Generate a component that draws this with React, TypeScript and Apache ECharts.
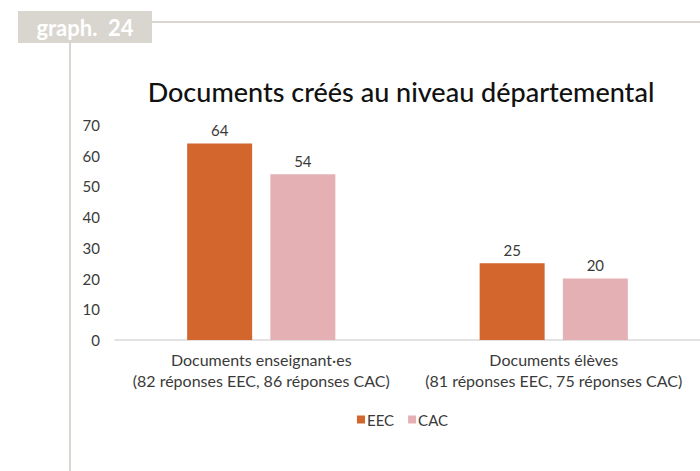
import React, { useEffect, useRef } from "react";
import * as echarts from "echarts";

const categories = [
  "Documents enseignant·es\n(82 réponses EEC, 86 réponses CAC)",
  "Documents élèves\n(81 réponses EEC, 75 réponses CAC)",
];
const seriesNames = ["EEC", "CAC"];
const eecValues = [64, 25];
const cacValues = [54, 20];
const yTicks = { min: 0, max: 70, interval: 10 };
const titleText = "Documents créés au niveau départemental";
const badgeText = "graph.  24";

const FONT = "Lato, 'Noto Sans', sans-serif";
const FRAME = "#d9d6d0";
const TXT = "#3a3a3a";

export default function App() {
  const ref = useRef<HTMLDivElement>(null);
  useEffect(() => {
    if (!ref.current) return;
    const chart = echarts.init(ref.current, undefined, { renderer: "svg" });
    chart.setOption({
      animation: false,
      backgroundColor: "#ffffff",
      textStyle: { fontFamily: FONT },
      title: {
        text: titleText,
        left: 396,
        top: 73,
        textAlign: "center",
        textStyle: { fontFamily: FONT, fontSize: 27, fontWeight: 500, color: "#111111" },
      },
      legend: {
        data: seriesNames,
        left: 352,
        top: 407,
        itemWidth: 8,
        itemHeight: 8,
        itemGap: 14,
        icon: "rect",
        textStyle: { fontFamily: FONT, fontSize: 15, color: TXT, padding: [0, 0, 0, -3] },
      },
      grid: { left: 115, right: -7, top: 125, bottom: 131, containLabel: false },
      xAxis: {
        type: "category",
        data: categories,
        axisLine: { show: true, lineStyle: { color: "#d9d9d9", width: 1.5 } },
        axisTick: { show: false },
        axisLabel: {
          interval: 0,
          margin: 9,
          fontFamily: FONT,
          fontSize: 16,
          lineHeight: 21,
          color: TXT,
        },
      },
      yAxis: {
        type: "value",
        min: yTicks.min,
        max: yTicks.max,
        interval: yTicks.interval,
        splitLine: { show: false },
        axisLine: { show: false },
        axisTick: { show: false },
        axisLabel: { margin: 15, fontFamily: FONT, fontSize: 15, color: TXT },
      },
      series: [
        {
          name: seriesNames[0],
          type: "bar",
          data: eecValues,
          barWidth: 65,
          barGap: "28%",
          itemStyle: { color: "#d2662d" },
          label: { show: true, position: "top", distance: 6, fontFamily: FONT, fontSize: 15, color: TXT },
        },
        {
          name: seriesNames[1],
          type: "bar",
          data: cacValues,
          barWidth: 65,
          itemStyle: { color: "#e5b0b4" },
          label: { show: true, position: "top", distance: 6, fontFamily: FONT, fontSize: 15, color: TXT },
        },
      ],
      graphic: [
        { type: "line", shape: { x1: 152, y1: 22, x2: 700, y2: 22 }, style: { stroke: FRAME, lineWidth: 2 } },
        { type: "line", shape: { x1: 70, y1: 43, x2: 70, y2: 471 }, style: { stroke: FRAME, lineWidth: 2 } },
        { type: "rect", shape: { x: 18, y: 11, width: 134, height: 32 }, style: { fill: FRAME } },
        {
          type: "text",
          x: 85,
          y: 27,
          style: {
            text: badgeText,
            fontFamily: FONT,
            fontSize: 22,
            fontWeight: "bold",
            fill: "#ffffff",
            align: "center",
            verticalAlign: "middle",
          },
        },
      ],
    });
    return () => chart.dispose();
  }, []);
  return (
    <div
      ref={ref}
      style={{ position: "fixed", left: 0, top: 0, width: 700, height: 471, background: "#fff" }}
    />
  );
}
